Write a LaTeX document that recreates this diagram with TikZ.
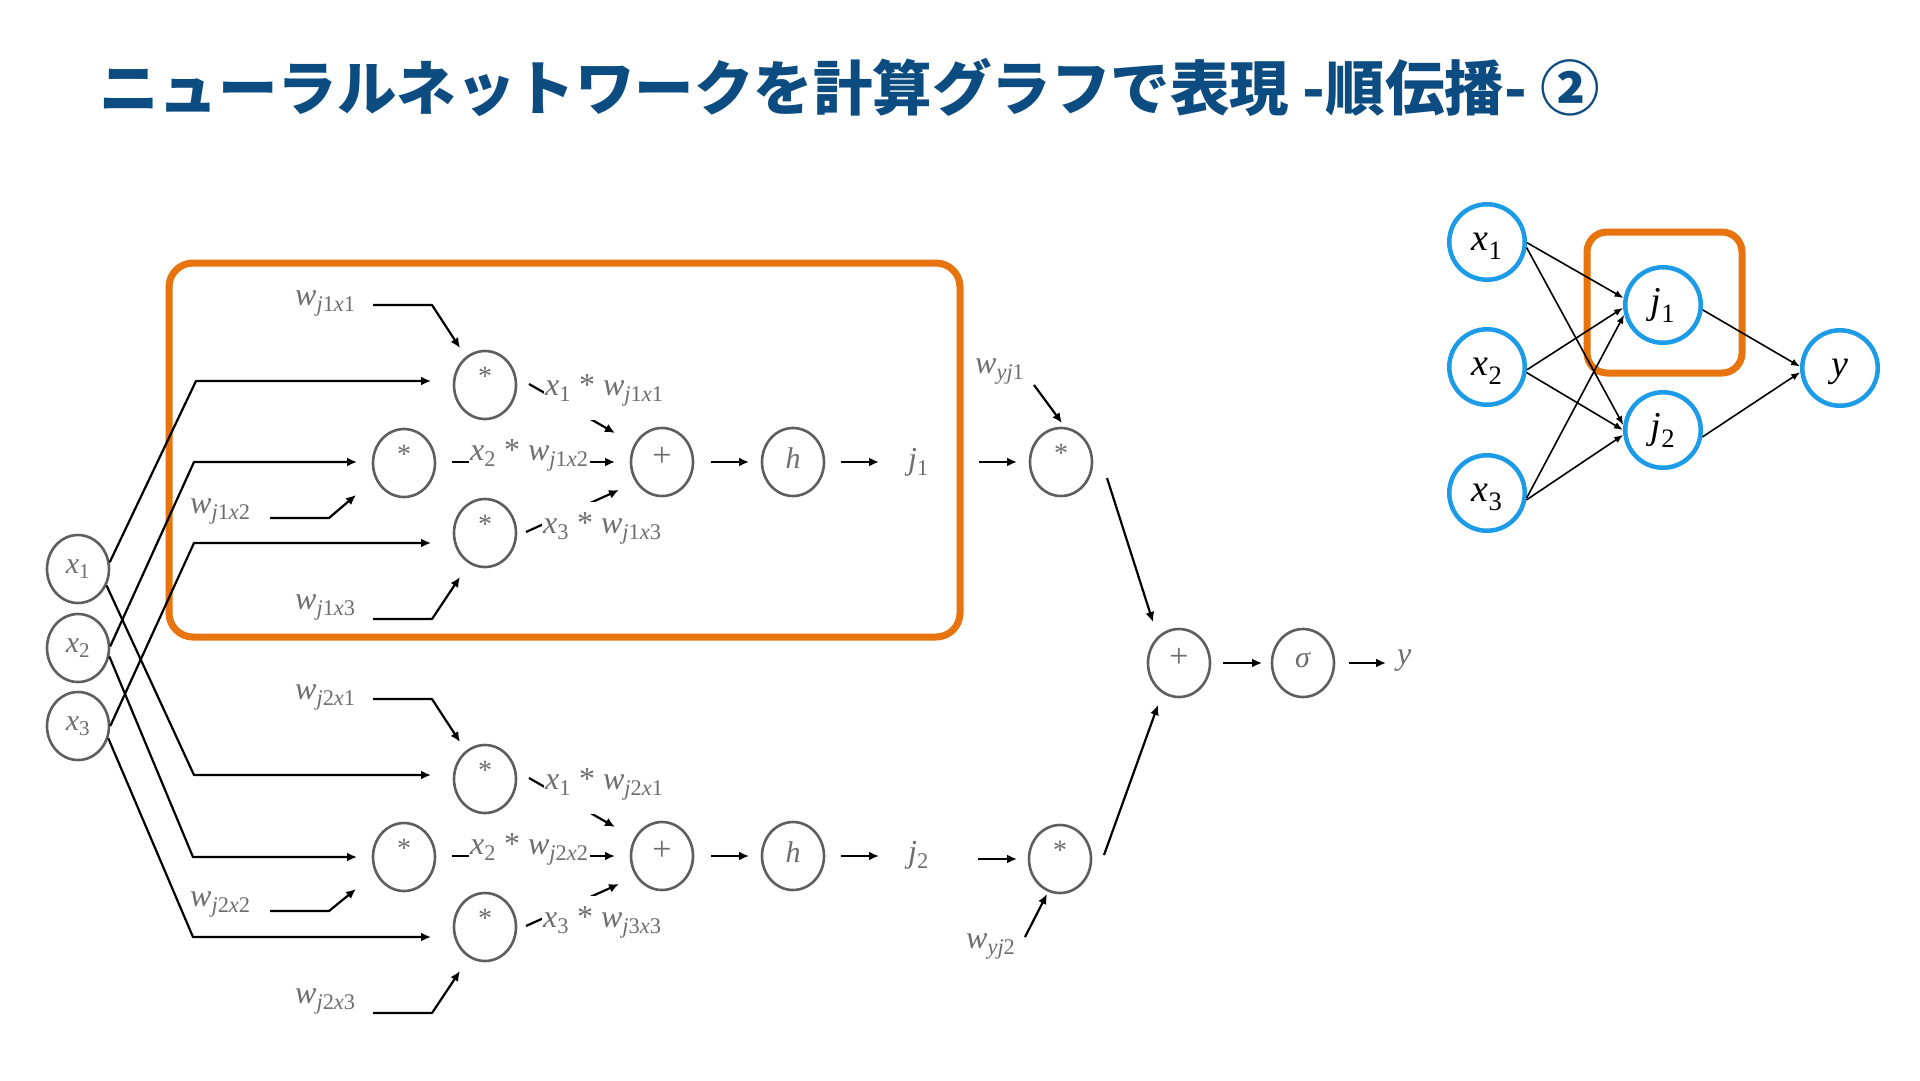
\documentclass[tikz,border=0pt]{standalone}
\usepackage{fontspec}
\setmainfont{Liberation Serif}
\newfontfamily\cjk{Noto Sans CJK JP}
\usetikzlibrary{shapes.geometric,arrows.meta}
\definecolor{tblue}{HTML}{0C4C80}
\definecolor{org}{HTML}{E8740F}
\definecolor{nblue}{HTML}{1C9CE8}
\definecolor{gstroke}{HTML}{5E5E5E}
\definecolor{gtext}{HTML}{6E6E6E}
\newcommand\vv[2]{\textit{#1}\textsubscript{#2}}
\newcommand\iv[1]{\textit{#1}}
\begin{document}
\begin{tikzpicture}[x=1pt,y=-1pt,
  gnode/.style={ellipse, draw=gstroke, line width=2.6pt, minimum width=62pt, minimum height=68pt, inner sep=0pt, text=gtext, font=\fontsize{30}{34}\selectfont},
  mulnode/.style={gnode, font=\fontsize{28}{30}\selectfont, text height=12pt, text depth=12pt},
  addnode/.style={gnode, font=\fontsize{34}{36}\selectfont, text height=12pt, text depth=4pt},
  hnode/.style={gnode, text height=14pt, text depth=2pt},
  sgnode/.style={gnode, text height=8pt, text depth=0pt},
  xnode/.style={gnode, text height=8pt, text depth=0pt},
  bnode/.style={circle, draw=nblue, line width=4.5pt, minimum size=75.5pt, inner sep=0pt, font=\fontsize{38}{40}\selectfont, text height=17pt, text depth=0pt},
  lab/.style={text=gtext, font=\fontsize{32}{36}\selectfont, inner sep=1pt, anchor=base west},
  plab/.style={lab, fill=white},
  ln/.style={line width=2.2pt, line join=round},
  arr/.style={ln, -{Latex[length=10pt,width=9pt]}},
  arr2/.style={line width=1.6pt, -{Latex[length=9pt,width=7pt]}},
  obox/.style={draw=org, line width=7pt, rounded corners=24pt}
]
\fill[white] (0,0) rectangle (1920,1080);
\useasboundingbox (0,0) rectangle (1920,1080);

% title
\node[anchor=base west, inner sep=0pt, text=tblue, font=\cjk\bfseries\fontsize{59.5}{62}\selectfont] (title) at (99,110) {ニューラルネットワークを計算グラフで表現 -順伝播- ②};

% orange highlight boxes
\draw[obox] (169,263) rectangle (960,637);
\draw[obox, rounded corners=20pt] (1587,232) rectangle (1742,373);

% inputs
\node[xnode] (x1) at (78,569) {\vv{x}{1}};
\node[xnode] (x2) at (78,648) {\vv{x}{2}};
\node[xnode] (x3) at (78,726) {\vv{x}{3}};

% group j1
\node[mulnode] (ma) at (485,385) {*};
\node[mulnode] (mb) at (404,463) {*};
\node[mulnode] (mc) at (485,533) {*};
\node[addnode] (p) at (662,462) {+};
\node[hnode] (h) at (793,462) {\iv{h}};
\node[lab] (wa) at (294,305) {\vv{w}{\iv{j}1\iv{x}1}};
\node[lab] (wb) at (189,513) {\vv{w}{\iv{j}1\iv{x}2}};
\node[lab] (wc) at (294,609) {\vv{w}{\iv{j}1\iv{x}3}};
\node[lab] (j1) at (907,469) {\vv{j}{1}};

% group j2
\node[mulnode] (ma2) at (485,779) {*};
\node[mulnode] (mb2) at (404,857) {*};
\node[mulnode] (mc2) at (485,927) {*};
\node[addnode] (p2) at (662,856) {+};
\node[hnode] (h2) at (793,856) {\iv{h}};
\node[lab] (wa2) at (294,699) {\vv{w}{\iv{j}2\iv{x}1}};
\node[lab] (wb2) at (189,906) {\vv{w}{\iv{j}2\iv{x}2}};
\node[lab] (wc2) at (294,1003) {\vv{w}{\iv{j}2\iv{x}3}};
\node[lab] (j2) at (907,862) {\vv{j}{2}};

% output part
\node[mulnode] (myj1) at (1061,462) {*};
\node[mulnode] (myj2) at (1060,859) {*};
\node[addnode] (fp) at (1179,663) {+};
\node[sgnode] (sg) at (1303,663) {\iv{σ}};
\node[lab] (yout) at (1396,664) {\iv{y}};
\node[lab] (wyj1) at (974,373) {\vv{w}{\iv{yj}1}};
\node[lab] (wyj2) at (965,948) {\vv{w}{\iv{yj}2}};

% input wiring
\draw[arr] (x1.12) -- (196,381) -- ([shift={(-54,-4)}]ma.center);
\draw[arr] (x2.3) -- (194,462) -- ([shift={(-47,-1)}]mb.center);
\draw[arr] (x3.0) -- (194,543) -- ([shift={(-54,10)}]mc.center);
\draw[arr] (x1.-30) -- (194,775) -- ([shift={(-54,-4)}]ma2.center);
\draw[arr] (x2.-15) -- (193,857) -- ([shift={(-47,0)}]mb2.center);
\draw[arr] (x3.-22) -- (193,937) -- ([shift={(-54,10)}]mc2.center);

% weights
\draw[arr] ([shift={(79,0)}]wa.base west) -- ++(59,0) -- ([shift={(-25,-37)}]ma.center);
\draw[arr] ([shift={(81,5)}]wb.base west) -- ++(59,0) -- ([shift={(-48,32)}]mb.center);
\draw[arr] ([shift={(79,10)}]wc.base west) -- ++(59,0) -- ([shift={(-25,44)}]mc.center);
\draw[arr] ([shift={(79,0)}]wa2.base west) -- ++(59,0) -- ([shift={(-25,-37)}]ma2.center);
\draw[arr] ([shift={(81,5)}]wb2.base west) -- ++(59,0) -- ([shift={(-48,32)}]mb2.center);
\draw[arr] ([shift={(79,10)}]wc2.base west) -- ++(59,0) -- ([shift={(-25,44)}]mc2.center);

% products to sums
\draw[arr] ([shift={(44,-1)}]ma.center) -- ([shift={(-47,-29)}]p.center);
\draw[arr] ([shift={(48,-1)}]mb.center) -- ([shift={(-47,0)}]p.center);
\draw[arr] ([shift={(41,-1)}]mc.center) -- ([shift={(-43,28)}]p.center);
\draw[arr] ([shift={(44,-1)}]ma2.center) -- ([shift={(-47,-29)}]p2.center);
\draw[arr] ([shift={(48,-1)}]mb2.center) -- ([shift={(-47,0)}]p2.center);
\draw[arr] ([shift={(41,-1)}]mc2.center) -- ([shift={(-43,28)}]p2.center);

\node[plab, text depth=24pt] (la) at (544,395) {\vv{x}{1} * \vv{w}{\iv{j}1\iv{x}1}};
\node[plab] (lb) at (469,460) {\vv{x}{2} * \vv{w}{\iv{j}1\iv{x}2}};
\node[plab, text height=30pt] (lc) at (542,533) {\vv{x}{3} * \vv{w}{\iv{j}1\iv{x}3}};
\node[plab, text depth=24pt] (la2) at (544,789) {\vv{x}{1} * \vv{w}{\iv{j}2\iv{x}1}};
\node[plab] (lb2) at (469,854) {\vv{x}{2} * \vv{w}{\iv{j}2\iv{x}2}};
\node[plab, text height=30pt] (lc2) at (542,927) {\vv{x}{3} * \vv{w}{\iv{j}3\iv{x}3}};

% chains
\draw[arr] ([shift={(49,0)}]p.center) -- ([shift={(-44,0)}]h.center);
\draw[arr] ([shift={(48,0)}]h.center) -- ([shift={(-28,-7)}]j1.base west);
\draw[arr] ([shift={(72,-7)}]j1.base west) -- ([shift={(-44,0)}]myj1.center);
\draw[arr] ([shift={(49,0)}]p2.center) -- ([shift={(-44,0)}]h2.center);
\draw[arr] ([shift={(48,0)}]h2.center) -- ([shift={(-28,-6)}]j2.base west);
\draw[arr] ([shift={(71,-3)}]j2.base west) -- ([shift={(-43,0)}]myj2.center);
\draw[arr] ([shift={(60,12)}]wyj1.base west) -- ([shift={(1,-39)}]myj1.center);
\draw[arr] ([shift={(60,-11)}]wyj2.base west) -- ([shift={(-13,35)}]myj2.center);
\draw[arr] ([shift={(46,16)}]myj1.center) -- ([shift={(-26,-41)}]fp.center);
\draw[arr] ([shift={(44,-4)}]myj2.center) -- ([shift={(-21,42)}]fp.center);
\draw[arr] ([shift={(44,0)}]fp.center) -- ([shift={(-41,0)}]sg.center);
\draw[arr] ([shift={(46,0)}]sg.center) -- ([shift={(-10,-1)}]yout.base west);

% small network
\node[bnode] (nx1) at (1487,242) {\vv{x}{1}};
\node[bnode] (nx2) at (1487,367) {\vv{x}{2}};
\node[bnode] (nx3) at (1487,493) {\vv{x}{3}};
\node[bnode] (nj1) at (1663,305) {\vv{j}{1}};
\node[bnode] (nj2) at (1663,430) {\vv{j}{2}};
\node[bnode] (ny) at (1840,368) {\iv{y}};
\draw[arr2] (nx1.-1) -- (nj1.170);
\draw[arr2] (nx1.-8) -- (nj2.173);
\draw[arr2] (nx2.-4) -- (nj1.184);
\draw[arr2] (nx2.-8) -- (nj2.180);
\draw[arr2] (nx3.-7) -- (nj1.194);
\draw[arr2] (nx3.-10) -- (nj2.187);
\draw[arr2] (nj1.-7) -- (ny.178);
\draw[arr2] (nj2.-10) -- (ny.186);
\end{tikzpicture}
\end{document}
